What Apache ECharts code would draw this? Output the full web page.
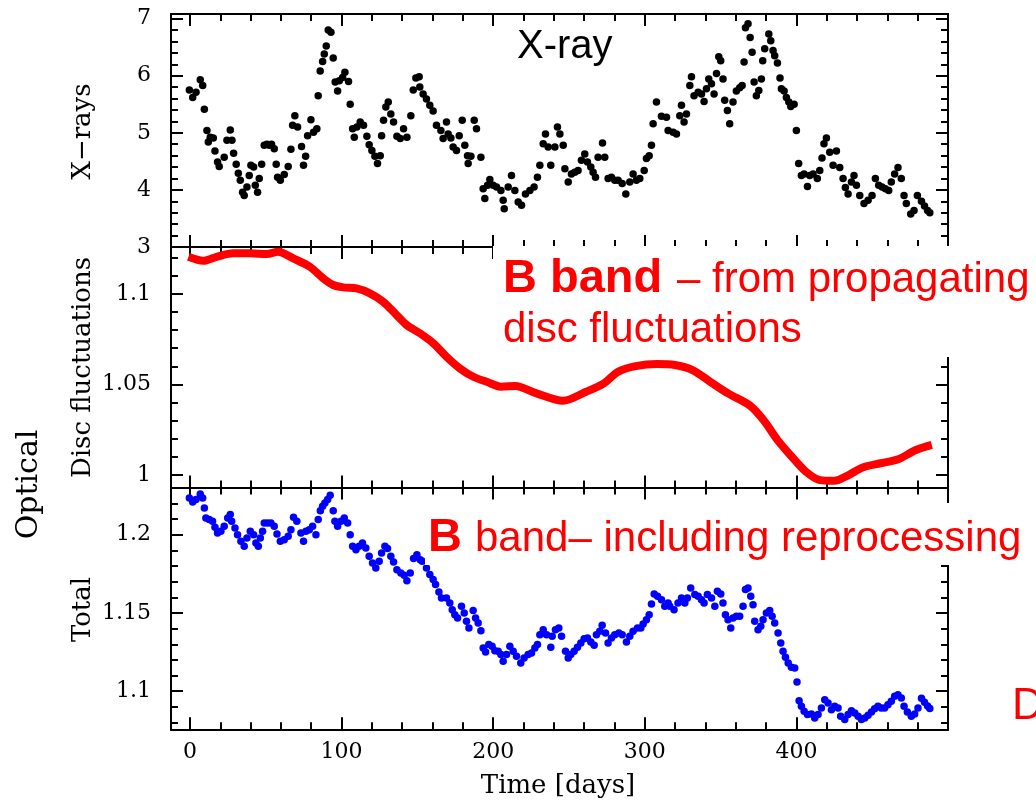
<!DOCTYPE html>
<html>
<head>
<meta charset="utf-8">
<script src="https://cdn.jsdelivr.net/npm/echarts@6/dist/echarts.min.js"></script>
<style>
html,body{margin:0;padding:0;background:#fff;}
#chart{width:1036px;height:802px;}
</style>
</head>
<body>
<div id="chart"></div>
<script>
// ---- data (time in days, flux values) ----
const xrayPoints = [
[-0.4,5.75],[1.8,5.62],[4.0,5.71],[6.8,5.93],[8.4,5.83],[9.5,5.41],[11.2,5.04],[12.1,4.84],[13.4,4.92],[15.4,4.91],[16.5,4.68],[18.2,4.49],[19.3,4.41],[22.6,4.57],[24.4,4.87],[26.6,5.05],[27.7,4.87],[28.8,4.64],[30.5,4.45],[31.9,4.29],[33.2,4.17],[34.7,3.96],[35.8,3.90],[37.6,4.05],[39.1,4.25],[40.2,4.43],[42.0,4.40],[43.1,4.08],[44.6,3.96],[45.7,4.20],[47.3,4.45],[49.0,4.78],[50.8,4.80],[52.3,4.78],[53.8,4.80],[55.6,4.72],[56.9,4.45],[57.8,4.22],[59.6,4.17],[62.2,4.27],[64.8,4.41],[66.6,4.71],[67.7,5.13],[69.2,5.30],[71.0,5.10],[73.6,4.76],[74.9,4.43],[76.3,4.59],[77.6,4.95],[79.8,5.23],[81.5,5.01],[83.7,5.07],[84.6,5.65],[85.9,6.08],[87.5,6.25],[88.6,6.38],[89.9,6.52],[91.2,6.80],[93.0,6.76],[94.5,6.31],[95.8,5.89],[97.4,5.73],[98.5,5.91],[100.7,5.97],[102.2,6.06],[104.6,5.90],[105.7,5.50],[107.3,5.07],[108.4,4.92],[110.1,5.10],[112.3,5.19],[114.5,5.13],[116.7,4.94],[118.2,4.79],[120.0,4.69],[122.0,4.59],[123.7,4.46],[125.5,4.60],[126.4,4.95],[127.7,5.22],[129.2,5.45],[130.8,5.54],[132.5,5.33],[134.3,5.19],[136.5,4.94],[138.7,4.90],[140.9,5.07],[143.1,4.92],[145.7,5.30],[147.3,5.75],[149.0,5.96],[151.2,5.98],
[151.6,5.80],[153.8,5.68],[156.0,5.59],[158.2,5.48],[160.4,5.38],[162.6,5.13],[165.5,5.04],[167.0,4.90],[169.2,5.19],[170.3,4.98],[172.1,4.91],[173.6,4.75],[175.8,4.69],[177.6,4.95],[179.6,5.22],[181.3,4.78],[183.1,4.60],[183.5,4.46],[185.3,4.59],[187.5,5.22],[189.0,5.07],[191.9,4.57],[193.4,4.02],[194.5,3.85],[196.3,4.08],[197.8,4.18],[200.0,4.08],[202.2,4.05],[205.1,3.99],[206.6,3.82],[207.3,3.67],[209.9,4.05],[212.1,4.25],[214.3,3.99],[216.5,3.79],[218.7,3.73],[221.3,3.93],[224.2,3.99],[227.0,4.05],[229.2,4.22],[230.8,4.43],[233.0,4.81],[234.5,4.98],[236.3,4.75],[238.0,4.43],[240.7,4.75],[242.4,5.10],[244.0,4.98],[246.2,4.78],[247.3,4.37],[249.5,4.14],[251.6,4.28],[253.8,4.31],[256.0,4.34],[258.2,4.52],[260.4,4.63],[262.2,4.49],[264.4,4.40],[265.9,4.31],[267.5,4.22],[269.2,4.57],[272.1,4.82],[273.6,4.57],[275.8,4.20],[278.0,4.22],[280.2,4.17],[282.4,4.17],[285.1,4.11],[287.5,3.93],[290.1,4.14],[292.3,4.28],[294.5,4.17],[296.7,4.20],[299.6,4.34],[301.1,4.55],[302.9,4.60],[304.4,4.78],[305.5,5.16],[307.7,5.54],[311.0,5.29],
[314.3,5.27],[315.4,5.04],[318.7,5.01],[320.9,4.98],[323.1,5.30],[324.2,5.48],[325.9,5.19],[327.5,5.33],[329.7,5.83],[330.8,5.98],[332.5,5.65],[335.2,5.71],[337.4,5.68],[339.1,5.55],[340.7,5.77],[342.2,5.94],[344.0,5.86],[345.7,5.68],[347.3,6.04],[348.8,6.33],[350.1,6.26],[351.6,5.94],[352.7,5.57],[354.5,5.39],[356.0,5.16],[358.2,5.54],[360.4,5.73],[362.6,5.79],[364.2,5.83],[365.5,6.24],[366.4,6.84],[368.1,6.91],[369.5,6.67],[370.8,6.41],[372.1,5.89],[373.6,5.65],[375.2,5.74],[376.9,5.94],[377.8,6.26],[379.1,6.47],[381.8,6.73],[383.1,6.61],[384.6,6.44],[385.7,6.35],[387.5,6.22],[389.2,5.96],[390.1,5.77],[391.9,5.73],[393.4,5.62],[395.0,5.54],[396.3,5.46],[398.5,5.50],[400.0,5.04],[401.5,4.46],[403.3,4.25],[405.1,4.28],[407.3,4.06],[408.8,4.25],[411.0,4.28],[413.8,4.20],[415.4,4.34],[416.9,4.56],[418.2,4.81],[419.8,4.91],[422.0,4.66],[424.2,4.43],[426.4,4.68],[428.6,4.39],[430.8,4.20],[432.3,4.04],[434.1,3.93],[436.3,4.14],[438.0,4.25],[439.6,4.08],[441.8,3.90],[444.6,3.76],[447.3,3.82],[449.9,3.90],[452.1,4.20],[454.3,4.08],[456.5,4.05],[458.7,4.02],[460.9,3.99],[462.6,4.14],[464.8,4.28],[467.0,4.39],[469.2,4.20],[471.0,3.90],[472.5,3.76],[475.4,3.58],[477.6,3.64],[479.8,3.90],[482.5,3.80],[484.5,3.72],[486.5,3.64],[488.0,3.60]
];

const discCurve = [
[-1.0,1.1205],[8.8,1.1183],[17.6,1.1205],[28.6,1.1224],[39.6,1.1224],[50.6,1.1220],[58.2,1.1233],[68.1,1.1196],[79.1,1.1150],[87.9,1.1086],[94.5,1.1049],[101.1,1.1036],[109.9,1.1030],[118.7,1.1003],[127.5,1.0956],[136.3,1.0883],[142.9,1.0828],[151.7,1.0782],[160.5,1.0727],[169.3,1.0652],[178.1,1.0588],[186.9,1.0542],[195.7,1.0514],[205.3,1.0487],[214.6,1.0491],[228.6,1.0450],[246.1,1.0409],[261.3,1.0459],[273.0,1.0506],[282.4,1.0570],[294.1,1.0601],[308.1,1.0612],[319.8,1.0607],[331.5,1.0579],[343.2,1.0514],[354.9,1.0450],[368.9,1.0386],[378.3,1.0303],[387.6,1.0192],[397.0,1.0100],[406.3,1.0017],[415.6,0.9971],[425.0,0.9967],[434.4,0.9999],[443.7,1.0041],[455.4,1.0064],[467.1,1.0086],[478.8,1.0137],[489.3,1.0165]
];

const totalPoints = [
[-0.4,1.2234],[1.8,1.2209],[4.0,1.2224],[6.8,1.2260],[8.4,1.2234],[9.5,1.2170],[10.5,1.2106],[12.7,1.2096],[14.9,1.2085],[16.5,1.2047],[18.2,1.2011],[20.4,1.2021],[22.6,1.2053],[24.9,1.2106],[26.6,1.2128],[27.5,1.2085],[29.7,1.2043],[31.4,1.2000],[33.6,1.1957],[35.8,1.1926],[37.6,1.1979],[39.8,1.2021],[42.0,1.2000],[43.5,1.1947],[45.1,1.1926],[46.4,1.1979],[47.9,1.2021],[49.0,1.2075],[51.2,1.2075],[53.4,1.2075],[55.6,1.2053],[57.4,1.2004],[59.6,1.1957],[62.2,1.1968],[64.8,1.1989],[66.6,1.2032],[68.3,1.2111],[70.5,1.2085],[73.2,1.2011],[74.9,1.1957],[76.5,1.2021],[78.7,1.2032],[80.9,1.2053],[83.1,1.2000],[84.6,1.2096],[86.0,1.2153],[87.5,1.2181],[89.0,1.2202],[90.8,1.2224],[92.5,1.2251],[94.5,1.2153],[95.6,1.2085],[97.4,1.2053],[99.6,1.2085],[101.8,1.2106],[104.0,1.2075],[105.7,1.2000],[107.3,1.1926],[109.5,1.1904],[111.6,1.1926],[113.8,1.1947],[116.0,1.1915],[118.2,1.1862],[120.4,1.1819],[122.6,1.1787],[124.8,1.1830],[126.4,1.1883],[128.6,1.1926],[130.3,1.1911],[132.5,1.1862],[134.3,1.1825],[136.5,1.1776],[139.1,1.1755],[141.3,1.1740],[143.1,1.1706],[145.3,1.1755],[147.5,1.1847],[149.7,1.1872],[151.9,1.1840],
[153.2,1.1830],[156.0,1.1787],[158.2,1.1745],[160.4,1.1713],[162.0,1.1681],[164.2,1.1634],[165.9,1.1596],[169.2,1.1596],[171.4,1.1564],[173.0,1.1521],[174.7,1.1489],[176.5,1.1468],[179.1,1.1543],[180.9,1.1500],[182.4,1.1447],[184.0,1.1404],[186.8,1.1515],[188.4,1.1468],[190.1,1.1436],[191.9,1.1387],[193.4,1.1276],[195.0,1.1251],[197.1,1.1298],[199.3,1.1287],[201.1,1.1259],[203.3,1.1255],[205.1,1.1234],[206.6,1.1191],[208.8,1.1234],[211.0,1.1287],[213.2,1.1255],[215.4,1.1223],[218.2,1.1180],[220.4,1.1212],[223.1,1.1234],[225.3,1.1244],[227.5,1.1276],[229.2,1.1298],[230.8,1.1361],[233.0,1.1393],[235.2,1.1361],[238.0,1.1281],[238.9,1.1351],[241.1,1.1393],[243.3,1.1404],[245.1,1.1351],[247.7,1.1255],[249.5,1.1212],[251.2,1.1234],[253.4,1.1255],[255.6,1.1281],[257.8,1.1308],[260.0,1.1336],[262.2,1.1340],[264.4,1.1315],[266.6,1.1293],[268.1,1.1361],[270.3,1.1383],[271.9,1.1421],[274.1,1.1372],[275.8,1.1308],[278.0,1.1340],[280.2,1.1361],[282.9,1.1372],[285.1,1.1361],[287.9,1.1315],[290.1,1.1351],[292.3,1.1383],[295.2,1.1404],[297.4,1.1404],[298.9,1.1430],[301.1,1.1457],[302.9,1.1489],[304.4,1.1557],[306.2,1.1621],[308.4,1.1606],[311.0,1.1585],[313.2,1.1543],[315.4,1.1564],
[316.5,1.1543],[319.3,1.1521],[321.9,1.1564],[324.2,1.1596],[326.4,1.1564],[328.1,1.1596],[330.3,1.1659],[333.0,1.1617],[335.2,1.1606],[337.4,1.1585],[339.1,1.1564],[341.3,1.1617],[344.0,1.1596],[346.2,1.1543],[347.9,1.1638],[350.1,1.1621],[351.6,1.1564],[353.2,1.1489],[354.9,1.1457],[356.7,1.1404],[358.2,1.1468],[360.4,1.1479],[362.6,1.1479],[364.8,1.1543],[366.4,1.1649],[368.1,1.1659],[369.9,1.1606],[371.4,1.1553],[372.5,1.1447],[374.7,1.1393],[376.5,1.1415],[378.0,1.1457],[380.2,1.1500],[382.4,1.1515],[384.0,1.1479],[385.7,1.1436],[387.9,1.1372],[389.7,1.1308],[391.2,1.1255],[392.8,1.1217],[394.6,1.1180],[396.7,1.1153],[398.9,1.1149],[400.4,1.1059],[401.8,1.0940],[403.3,1.0904],[405.1,1.0872],[407.3,1.0851],[409.9,1.0855],[412.1,1.0829],[414.3,1.0851],[416.5,1.0893],[418.7,1.0946],[420.9,1.0925],[423.1,1.0882],[425.3,1.0904],[427.5,1.0893],[429.2,1.0840],[431.9,1.0819],[434.1,1.0851],[436.3,1.0876],[438.5,1.0861],[440.7,1.0840],[442.9,1.0819],[445.1,1.0829],[447.3,1.0846],[449.5,1.0868],[451.6,1.0889],[453.8,1.0904],[456.0,1.0893],[458.2,1.0893],[460.4,1.0914],[462.6,1.0936],[464.8,1.0968],[467.0,1.0978],[469.2,1.0957],[471.0,1.0904],[473.2,1.0868],[475.8,1.0840],[478.0,1.0855],[480.2,1.0893],[482.5,1.0955],[484.5,1.0930],[486.5,1.0905],[488.0,1.0890]
];

// ---- tick values ----
const xMajorTicks = [0,100,200,300,400];
const xMinorTicks = [20,40,60,80,120,140,160,180,220,240,260,280,320,340,360,380,420,440,460,480];
const xrayMajorTicks = [3,4,5,6,7];
const xrayMinorTicks = [3.2,3.4,3.6,3.8,4.2,4.4,4.6,4.8,5.2,5.4,5.6,5.8,6.2,6.4,6.6,6.8];
const discMajorTicks = [1,1.05,1.1];
const discMinorTicks = [1.01,1.02,1.03,1.04,1.06,1.07,1.08,1.09,1.11,1.12];
const totalMajorTicks = [1.1,1.15,1.2];
const totalMinorTicks = [1.08,1.09,1.11,1.12,1.13,1.14,1.16,1.17,1.18,1.19,1.21,1.22];

// ---- layout ----
const X_MIN = -12.5, X_MAX = 500;
const panels = [
  {top:14,    height:233,   yMin:3.0,    yMax:7.08,   major:xrayMajorTicks,  minor:xrayMinorTicks,  xLabels:false},
  {top:247,   height:240.5, yMin:0.9930, yMax:1.1259, major:discMajorTicks,  minor:discMinorTicks,  xLabels:false},
  {top:487.5, height:241.8, yMin:1.0757, yMax:1.2301, major:totalMajorTicks, minor:totalMinorTicks, xLabels:true}
];
const LEFT = 171, WIDTH = 777;
const serif = '"DejaVu Serif", serif';
const sans = '"Liberation Sans", Arial, sans-serif';

const grids = [], xAxes = [], yAxes = [];
const lineStyle = {color:'#000', width:2};
panels.forEach((p, pi) => {
  ['major','minor'].forEach((kind) => {
    const gi = grids.length;
    grids.push({left:LEFT, top:p.top, width:WIDTH, height:p.height, containLabel:false});
    const isMajor = kind === 'major';
    const xt = isMajor ? xMajorTicks : xMinorTicks;
    const yt = isMajor ? p.major : p.minor;
    const len = isMajor ? 12 : 7;
    ['bottom','top'].forEach((pos) => {
      const showLab = isMajor && pos === 'bottom' && p.xLabels;
      xAxes.push({
        gridIndex:gi, type:'value', position:pos, min:X_MIN, max:X_MAX,
        axisLine:{show:true, onZero:false, lineStyle},
        axisTick:{show:true, inside:true, length:len, customValues:xt, lineStyle},
        axisLabel:{show:showLab, customValues:xt, margin:12, color:'#000', fontFamily:serif, fontSize:22},
        splitLine:{show:false}
      });
    });
    ['left','right'].forEach((pos) => {
      const showLab = isMajor && pos === 'left';
      yAxes.push({
        gridIndex:gi, type:'value', position:pos, min:p.yMin, max:p.yMax,
        axisLine:{show:true, onZero:false, lineStyle},
        axisTick:{show:true, inside:true, length:len, customValues:yt, lineStyle},
        axisLabel:{show:showLab, customValues:yt, margin:20, color:'#000', fontFamily:serif, fontSize:22},
        splitLine:{show:false}
      });
    });
  });
});

function txt(x, y, text, font, fill, opts) {
  return Object.assign({
    type:'text', x:x, y:y, z:110,
    style:{text:text, font:font, fill:fill, align:'left', verticalAlign:'middle', textAlign:'left', textVerticalAlign:'middle'}
  }, opts || {});
}
function rtxt(x, y, text, size) {
  return {type:'text', x:x, y:y, rotation:Math.PI/2, z:110,
    style:{text:text, font:size + 'px ' + serif, fill:'#000', align:'center', verticalAlign:'middle', textAlign:'center', textVerticalAlign:'middle'}};
}

const graphics = [
  {type:'rect', z:100, shape:{x:493, y:246, width:543, height:111}, style:{fill:'#fff'}},
  {type:'rect', z:100, shape:{x:425, y:503, width:611, height:62}, style:{fill:'#fff'}},
  txt(517, 61 - 0.3465*40, 'X-ray', '40px ' + sans, '#000'),
  txt(503, 295 - 0.3465*47, 'B band', 'bold 47px ' + sans, '#ff0000'),
  txt(677, 295 - 0.3465*42, '– from propagating', '42px ' + sans, '#ff0000'),
  txt(503, 345 - 0.3465*42, 'disc fluctuations', '42px ' + sans, '#ff0000'),
  txt(428, 554 - 0.3465*47, 'B', 'bold 47px ' + sans, '#ff0000'),
  txt(475, 554 - 0.3465*42, 'band– including reprocessing', '42px ' + sans, '#ff0000'),
  txt(1012, 722 - 0.3465*44, 'D', '44px ' + sans, '#ff0000'),
  rtxt(83, 131.5, 'X−rays', 26),
  rtxt(83, 367.5, 'Disc fluctuations', 26),
  rtxt(83, 609.5, 'Total', 26),
  rtxt(29, 484.5, 'Optical', 30),
  {type:'text', x:558, y:786, z:110,
   style:{text:'Time [days]', font:'26px ' + serif, fill:'#000', align:'center', verticalAlign:'middle', textAlign:'center', textVerticalAlign:'middle'}}
];

const chart = echarts.init(document.getElementById('chart'), null, {renderer:'canvas'});
chart.setOption({
  animation:false,
  backgroundColor:'#fff',
  grid:grids,
  xAxis:xAxes,
  yAxis:yAxes,
  series:[
    {type:'scatter', xAxisIndex:0, yAxisIndex:0, data:xrayPoints, symbol:'circle', symbolSize:7.5, itemStyle:{color:'#000', opacity:1}, z:5},
    {type:'line', xAxisIndex:4, yAxisIndex:4, data:discCurve, showSymbol:false, symbol:'none', smooth:0.3, lineStyle:{color:'#ff0000', width:8}, z:5},
    {type:'scatter', xAxisIndex:8, yAxisIndex:8, data:totalPoints, symbol:'circle', symbolSize:7.5, itemStyle:{color:'#0000ff', opacity:1}, z:5}
  ],
  graphic:{elements:graphics}
});
</script>
</body>
</html>
